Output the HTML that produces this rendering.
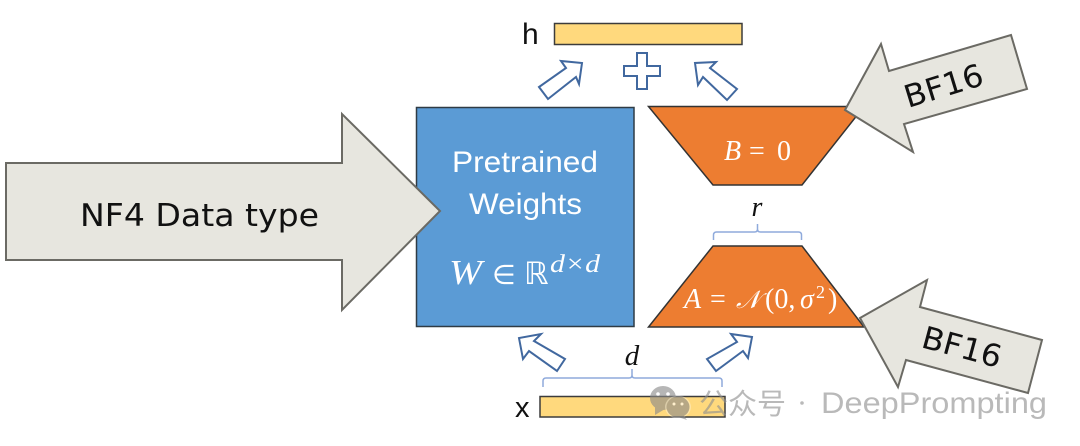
<!DOCTYPE html>
<html><head><meta charset="utf-8"><style>html,body{margin:0;padding:0;background:#fff}svg{display:block;filter:blur(.35px)}</style></head>
<body>
<svg width="1080" height="446" viewBox="0 0 1080 446" xmlns="http://www.w3.org/2000/svg" font-family="'Liberation Sans',sans-serif">
<rect width="1080" height="446" fill="#fff"/>
<!-- bars -->
<rect x="554.5" y="23.5" width="187.5" height="21" fill="#ffd97d" stroke="#3c3c3c" stroke-width="1.5"/>
<text x="522" y="44" font-size="30" fill="#111">h</text>
<!-- blue box -->
<rect x="416.5" y="107.5" width="217.5" height="219" fill="#5b9bd5" stroke="#2f3b45" stroke-width="1.5"/>
<text x="452" y="172" font-size="30" fill="#fff" textLength="146" lengthAdjust="spacingAndGlyphs">Pretrained</text>
<text x="469" y="214" font-size="30" fill="#fff" textLength="113" lengthAdjust="spacingAndGlyphs">Weights</text>
<text x="449" y="284" font-size="35" fill="#fff" font-style="italic" font-family="'Liberation Serif',serif" textLength="33" lengthAdjust="spacingAndGlyphs">W</text>
<text x="492" y="284" font-size="27" fill="#fff" font-family="'DejaVu Sans',sans-serif">∈</text>
<text x="524" y="284" font-size="31" fill="#fff" font-family="'DejaVu Sans',sans-serif">ℝ</text>
<text x="550" y="272" font-size="25" fill="#fff" font-style="italic" font-family="'Liberation Serif',serif" textLength="50" lengthAdjust="spacingAndGlyphs">d×d</text>
<!-- trapezoids -->
<polygon points="648.5,106.5 864,106.5 802,185 713,185" fill="#ed7d31" stroke="#333" stroke-width="1.5"/>
<text x="724" y="160" font-size="28" fill="#fff" font-family="'Liberation Serif',serif" font-style="italic">B</text>
<text x="749" y="160" font-size="28" fill="#fff" font-family="'Liberation Serif',serif">=</text>
<text x="777" y="160" font-size="28" fill="#fff" font-family="'Liberation Serif',serif">0</text>
<polygon points="713,246 802,246 864,327 648.5,327" fill="#ed7d31" stroke="#333" stroke-width="1.5"/>
<text x="684" y="308" font-size="28" fill="#fff" font-family="'Liberation Serif',serif" font-style="italic">A</text>
<text x="710" y="308" font-size="28" fill="#fff" font-family="'Liberation Serif',serif">=</text>
<text x="736" y="308" font-size="25" fill="#fff" font-family="'Liberation Serif','DejaVu Sans',serif" font-style="italic">𝒩</text>
<text x="765" y="308" font-size="28" fill="#fff" font-family="'Liberation Serif',serif">(0,</text>
<text x="800" y="308" font-size="28" fill="#fff" font-family="'Liberation Serif',serif" font-style="italic">σ</text>
<text x="816" y="298" font-size="18" fill="#fff" font-family="'Liberation Serif',serif">2</text>
<text x="828" y="308" font-size="28" fill="#fff" font-family="'Liberation Serif',serif">)</text>
<!-- r brace -->
<path d="M713.5 240v-5q0-3 3-3h38q3 0 3-3v-5q0 5 0 5q0 3 3 3h38q3 0 3 3v5" fill="none" stroke="#8faadc" stroke-width="1.5"/>
<text x="757" y="216" text-anchor="middle" font-size="28" fill="#111" font-style="italic" font-family="'Liberation Serif',serif">r</text>
<!-- d brace -->
<path d="M543 387v-6q0-3 3-3h83q3 0 3-3v-6q0 6 0 6q0 3 3 3h84q3 0 3 3v6" fill="none" stroke="#8faadc" stroke-width="1.5"/>
<text x="632" y="365" text-anchor="middle" font-size="29" fill="#111" font-style="italic" font-family="'Liberation Serif',serif">d</text>
<!-- x bar -->
<rect x="540" y="396.5" width="185" height="20.5" fill="#ffd97d" stroke="#3c3c3c" stroke-width="1.5"/>
<text x="515" y="417" font-size="29" fill="#111">x</text>
<!-- blue outlined arrows -->
<g fill="#fff" stroke="#41689f" stroke-width="2" stroke-linejoin="miter">
<polygon points="539,87 548,99 576,77 579,84 582,63 561,61 566,68"/>
<polygon points="737,89 727,100 703,77 698,85 695,63 716,62 710,68"/>
<polygon points="637,53 647,53 647,66 660,66 660,76 647,76 647,89 637,89 637,76 624,76 624,66 637,66"/>
<polygon points="565,359 557,371 529,351 523,359 519,338 541,334 534,341"/>
<polygon points="707,359 716,371 743,351 748,358 752,337 731,334 737,342"/>
</g>
<!-- big arrows -->
<g fill="#e7e6df" stroke="#6b6a64" stroke-width="2" stroke-linejoin="miter">
<polygon points="6,163 342,163 342,114 440,211 342,310 342,260 6,260"/>
<polygon points="845,110 881,44 889,71 1011,35 1027,89 904,124 913,152"/>
<polygon points="860,318 927,280 920,307 1042,340 1028,393 906,360 898,387"/>
</g>
<text x="80" y="226" font-size="31" fill="#111" font-family="'DejaVu Sans',sans-serif" textLength="239" lengthAdjust="spacingAndGlyphs">NF4 Data type</text>
<text transform="translate(908,108) rotate(-17)" font-size="31" fill="#111" font-family="'DejaVu Sans',sans-serif" textLength="81" lengthAdjust="spacingAndGlyphs">BF16</text>
<text transform="translate(920,347) rotate(15)" font-size="31" fill="#111" font-family="'DejaVu Sans',sans-serif" textLength="81" lengthAdjust="spacingAndGlyphs">BF16</text>
<!-- watermark -->
<g opacity="0.62">
<ellipse cx="663" cy="398" rx="13" ry="12" fill="#8a8a8a"/>
<polygon points="655,406 655,415 665,409" fill="#8a8a8a"/>
<ellipse cx="678" cy="407" rx="13" ry="11.5" fill="#fff" opacity=".5"/>
<ellipse cx="678" cy="407" rx="11.5" ry="10.5" fill="#8a8a8a"/>
<polygon points="683,415 687,420 678,417" fill="#8a8a8a"/>
<circle cx="658" cy="394" r="1.8" fill="#fff"/><circle cx="668" cy="394" r="1.8" fill="#fff"/>
<circle cx="674" cy="404" r="1.5" fill="#fff"/><circle cx="682" cy="404" r="1.5" fill="#fff"/>
<text x="699" y="414" font-size="29" fill="#8f8f8f" font-family="'Liberation Sans','Noto Sans CJK SC',sans-serif">公众号</text>
<circle cx="802" cy="403" r="1.8" fill="#8f8f8f"/>
<text x="821" y="413" font-size="30" fill="#8f8f8f" textLength="226" lengthAdjust="spacingAndGlyphs">DeepPrompting</text>
</g>
</svg>
</body></html>
